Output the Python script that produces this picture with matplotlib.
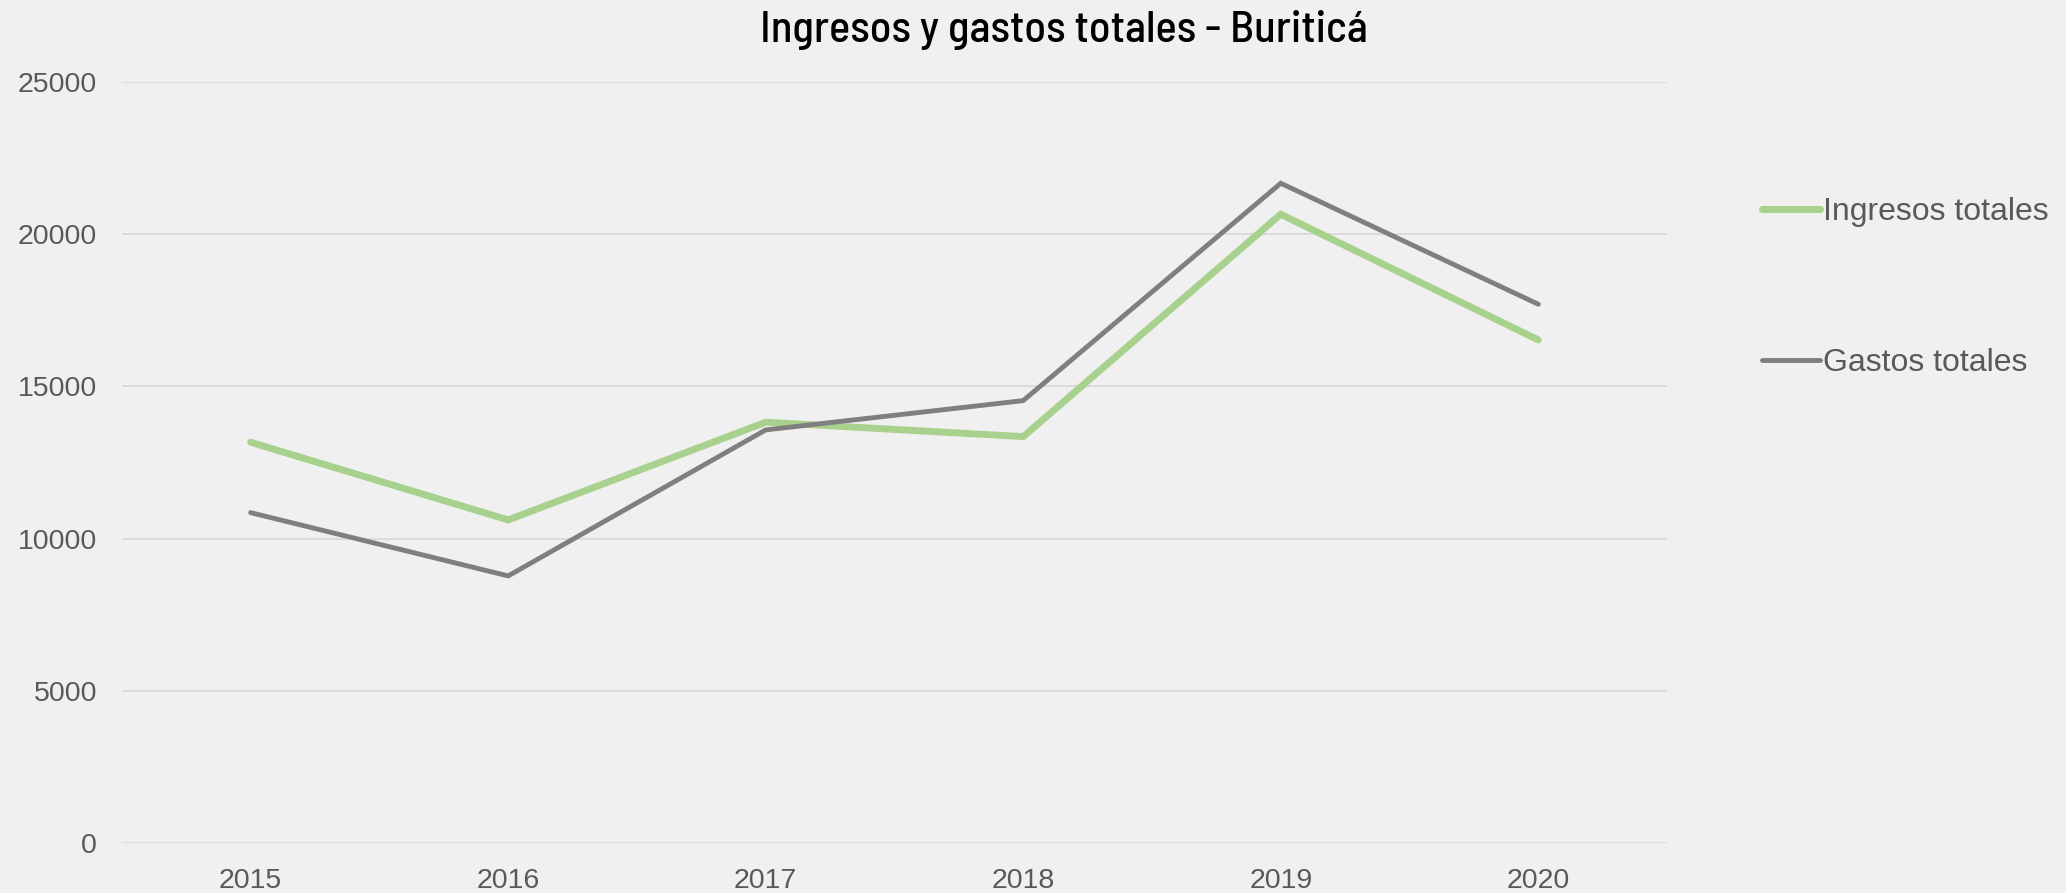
import matplotlib
matplotlib.use('agg')
import matplotlib.pyplot as plt

# data
years = ['2015', '2016', '2017', '2018', '2019', '2020']
ingresos = [13165, 10614, 13822, 13349, 20650, 16523]
gastos = [10853, 8776, 13569, 14531, 21667, 17695]
yticks = [0, 5000, 10000, 15000, 20000, 25000]

bg = '#f0f0f0'
txt = '#595959'

fig = plt.figure(figsize=(20.66, 8.93), dpi=100, facecolor=bg)
ax = fig.add_axes([0.0590, 0.0557, 0.7479, 0.8528], facecolor=bg)

x = list(range(len(years)))
ax.plot(x, ingresos, color='#a9d18e', linewidth=5.0, solid_capstyle='round',
        solid_joinstyle='miter', label='Ingresos totales', zorder=3)
ax.plot(x, gastos, color='#7f7f7f', linewidth=3.5, solid_capstyle='round',
        solid_joinstyle='miter', label='Gastos totales', zorder=3)

ax.set_xlim(-0.5, len(years) - 0.5)
ax.set_ylim(0, 25000)
ax.set_xticks(x)
ax.set_xticklabels(years)
ax.set_yticks(yticks)
ax.set_yticklabels([str(v) for v in yticks])
ax.grid(axis='y', color='#d9d9d9', linewidth=1.3, zorder=0)
for s in ax.spines.values():
    s.set_visible(False)
ax.tick_params(length=0, labelsize=20.5, labelcolor=txt, labelfontfamily='Liberation Sans')
ax.tick_params(axis='y', pad=18)
ax.tick_params(axis='x', pad=18)

leg = fig.legend(loc='center left', bbox_to_anchor=(0.8529, 0.678), frameon=False,
                 prop={'family': 'Liberation Sans', 'size': 23}, handlelength=1.8,
                 handletextpad=0.1, labelspacing=3.8, borderpad=0, borderaxespad=0)
for t in leg.get_texts():
    t.set_color(txt)

fig.text(1064 / 2066, 1 - 30 / 893, 'Ingresos y gastos totales - Buriticá',
         ha='center', va='center', fontsize=32, fontweight='medium',
         family=['Barlow Semi Condensed', 'Archivo Narrow', 'Liberation Sans'], color='black')

fig.savefig('out.png', dpi=100, facecolor=bg)
